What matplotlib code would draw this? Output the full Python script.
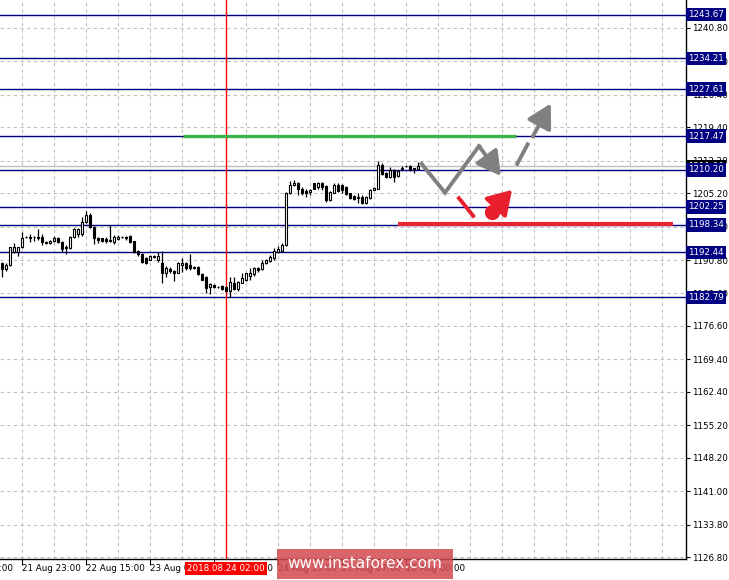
import numpy as np
import matplotlib.pyplot as plt
import matplotlib.patches as mpatches
import matplotlib.transforms as mtransforms

plt.rcParams['font.family'] = ['DejaVu Sans']

# hourly candles, OHLC
opens = [1190.2, 1188.8, 1189.7, 1192.6, 1192.6, 1193.5, 1195.7, 1195.8, 1195.7, 1195.8,
         1195.8, 1194.7, 1194.5, 1194.9, 1195.6, 1194.6, 1193.6, 1193.3, 1195.8, 1196.5,
         1196.5, 1199.0, 1200.5, 1198.0, 1195.5, 1195.5, 1195.4, 1194.9, 1194.7, 1195.3,
         1195.7, 1195.7, 1196.0, 1194.9, 1192.8, 1192.1, 1191.2, 1190.9, 1191.4, 1190.9,
         1190.2, 1187.9, 1188.8, 1188.5, 1188.1, 1189.7, 1190.1, 1189.7, 1189.3, 1189.4,
         1187.8, 1187.2, 1185.0, 1185.4, 1185.0, 1185.2, 1185.0, 1184.2, 1185.8, 1184.5,
         1185.9, 1186.5, 1187.3, 1187.8, 1189.0, 1188.8, 1190.2, 1190.6, 1191.2, 1192.6,
         1192.8, 1194.0, 1205.3, 1206.9, 1207.4, 1206.2, 1205.7, 1205.5, 1207.3, 1206.5,
         1207.4, 1206.7, 1203.7, 1205.3, 1206.9, 1206.9, 1206.6, 1205.2, 1204.6, 1204.1,
         1204.4, 1203.0, 1204.1, 1205.9, 1206.2, 1211.3, 1209.5, 1208.7, 1210.2, 1208.9,
         1210.3, 1211.0, 1211.0, 1210.6, 1210.5]
highs = [1190.4, 1190.1, 1193.6, 1194.4, 1193.6, 1196.9, 1195.9, 1196.5, 1195.9, 1197.5,
         1196.3, 1195.0, 1195.2, 1195.9, 1195.8, 1194.8, 1194.0, 1196.0, 1197.7, 1197.6,
         1200.1, 1201.3, 1200.9, 1198.2, 1195.7, 1195.6, 1195.7, 1198.3, 1196.2, 1196.2,
         1195.9, 1196.0, 1196.2, 1195.0, 1193.0, 1192.3, 1191.5, 1191.9, 1191.8, 1192.6,
         1192.8, 1189.6, 1189.2, 1188.6, 1190.4, 1191.2, 1190.4, 1192.1, 1189.5, 1189.6,
         1188.0, 1187.4, 1185.8, 1185.6, 1185.2, 1185.4, 1185.3, 1187.1, 1187.1, 1186.3,
         1187.9, 1188.1, 1189.0, 1189.2, 1189.2, 1190.9, 1191.1, 1191.9, 1193.3, 1193.8,
         1194.5, 1205.5, 1207.9, 1208.0, 1207.6, 1206.6, 1206.0, 1206.0, 1207.4, 1207.7,
         1207.6, 1206.9, 1205.7, 1207.4, 1207.3, 1207.1, 1206.8, 1205.3, 1204.8, 1205.3,
         1204.8, 1204.5, 1206.2, 1206.6, 1212.2, 1211.6, 1209.7, 1210.8, 1210.4, 1210.2,
         1211.0, 1211.1, 1211.3, 1210.7, 1212.0]
lows = [1187.2, 1188.5, 1189.5, 1192.4, 1191.7, 1193.4, 1195.5, 1194.6, 1194.8, 1195.1,
        1194.0, 1194.3, 1194.3, 1194.6, 1194.4, 1192.6, 1192.2, 1193.1, 1195.6, 1195.8,
        1196.0, 1198.7, 1197.6, 1194.2, 1194.4, 1194.7, 1194.4, 1194.7, 1194.2, 1195.1,
        1195.5, 1195.2, 1194.5, 1192.4, 1191.7, 1190.1, 1189.9, 1190.7, 1191.2, 1190.4,
        1185.9, 1187.2, 1188.1, 1186.3, 1187.9, 1188.3, 1188.7, 1188.7, 1188.8, 1187.6,
        1186.4, 1183.8, 1183.5, 1184.8, 1184.8, 1184.4, 1183.9, 1182.8, 1184.3, 1184.1,
        1185.8, 1186.3, 1186.5, 1187.3, 1188.2, 1188.6, 1190.0, 1190.4, 1190.9, 1192.4,
        1192.6, 1193.8, 1205.1, 1206.7, 1204.8, 1204.8, 1204.4, 1204.8, 1206.0, 1206.0,
        1205.9, 1203.4, 1203.6, 1205.2, 1205.5, 1205.3, 1204.8, 1203.9, 1203.7, 1203.0,
        1202.9, 1202.8, 1204.0, 1205.8, 1206.0, 1209.1, 1208.5, 1208.5, 1207.7, 1208.7,
        1210.0, 1210.9, 1209.9, 1209.6, 1210.3]
closes = [1188.8, 1189.7, 1193.5, 1193.5, 1193.5, 1195.5, 1195.8, 1195.6, 1195.8, 1195.5,
          1194.7, 1194.5, 1194.9, 1195.6, 1194.6, 1193.2, 1193.3, 1195.8, 1197.5, 1197.5,
          1199.0, 1200.5, 1198.0, 1195.5, 1195.1, 1194.9, 1194.9, 1195.1, 1195.7, 1195.7,
          1195.7, 1195.6, 1194.7, 1192.6, 1192.1, 1190.4, 1190.2, 1191.6, 1191.6, 1191.6,
          1187.9, 1189.0, 1188.5, 1187.9, 1190.1, 1190.2, 1189.0, 1189.0, 1189.0, 1187.8,
          1186.6, 1184.7, 1185.6, 1185.0, 1185.0, 1184.6, 1184.2, 1186.1, 1184.5, 1186.1,
          1186.9, 1187.9, 1187.9, 1189.0, 1188.6, 1190.2, 1190.9, 1191.4, 1192.8, 1193.1,
          1194.0, 1205.3, 1207.0, 1207.4, 1206.0, 1205.2, 1205.3, 1205.9, 1206.2, 1207.3,
          1206.5, 1203.7, 1205.5, 1206.9, 1205.7, 1205.9, 1205.0, 1204.1, 1203.9, 1204.3,
          1203.1, 1204.3, 1205.9, 1206.3, 1211.3, 1209.3, 1208.7, 1210.2, 1208.7, 1210.0,
          1210.7, 1211.0, 1210.3, 1210.4, 1211.0]

levels = [1243.67, 1234.21, 1227.61, 1217.47, 1210.20, 1202.25, 1198.34, 1192.44, 1182.79]
bid = 1211.0

yticks = [1240.80, 1233.60, 1226.40, 1219.40, 1212.20, 1205.20, 1198.00, 1190.80, 1183.60,
          1176.60, 1169.40, 1162.40, 1155.20, 1148.20, 1141.00, 1133.80, 1126.80]

time_ticks = [-12, 5, 21, 37, 53, 69, 85, 101]
time_labels = ['21 Aug 07:00', '21 Aug 23:00', '22 Aug 15:00', '23 Aug 07:00',
               '23 Aug 23:00', '24 Aug 15:00', '27 Aug 07:00', '28 Aug 00:00']
marker_bar = 56
marker_label = '2018.08.24 02:00'

# forecast drawings (bar index, price)
green_level = (45.3, 128.5, 1217.6)
red_level = (99.0, 167.7, 1198.5)
gray_path = [(104.9, 1211.5), (110.75, 1205.3), (119.25, 1215.35)]
gray_arrow_end = (124.7, 1208.9)
gray_dash = [(128.8, 1211.5), (131.4, 1215.7)]
gray_arrow2 = [(132.7, 1217.4), (137.2, 1224.5)]
red_dash = [(114.25, 1204.1), (117.8, 1200.3)]
red_dot = (122.4, 1201.2)
red_arrow_end = (127.5, 1205.9)

W, H = 729, 580
fig = plt.figure(figsize=(W / 100, H / 100), dpi=100)
ax = fig.add_axes([0, 21 / H, 686 / W, 559 / H])
ax.set_xlim(-0.5, 171)
ax.set_ylim(1126.4, 1246.8)

grid_kw = dict(color='#c0c0c0', lw=0.8, ls=(0, (3, 3)), zorder=0)
for g in range(5, 171, 8):
    ax.axvline(g, **grid_kw)
for t in yticks:
    ax.axhline(t, **grid_kw)

for lv in levels:
    ax.axhline(lv, color='#000080', lw=1.0, zorder=1)
ax.axhline(bid, color='#c0c0c0', lw=1.0, zorder=1)
ax.axvline(marker_bar, color='red', lw=1.0, zorder=1)

x = np.arange(len(opens))
o = np.array(opens)
c = np.array(closes)
ax.vlines(x, lows, highs, color='black', lw=0.9, zorder=3)
up = c >= o
bottom = np.minimum(o, c)
height = np.maximum(np.abs(c - o), 0.08)
ax.bar(x[up], height[up], 0.7, bottom[up], facecolor='white', edgecolor='black', lw=0.8, zorder=4)
ax.bar(x[~up], height[~up], 0.7, bottom[~up], facecolor='black', edgecolor='black', lw=0.8, zorder=4)

# forecast drawings
ax.plot(green_level[:2], [green_level[2]] * 2, color='#3cb44b', lw=2.4, solid_capstyle='butt', zorder=5)
ax.plot(red_level[:2], [red_level[2]] * 2, color='#e52632', lw=3.0, solid_capstyle='butt', zorder=5)
gx, gy = zip(*gray_path)
ax.plot(gx, gy, color='#808080', lw=2.8, solid_joinstyle='miter', zorder=6)
arrow_kw = dict(arrowstyle='-|>,head_length=0.8,head_width=0.45', color='#808080', lw=2.8,
                mutation_scale=18, shrinkA=0, shrinkB=0)
ax.annotate('', xy=gray_arrow_end, xytext=gray_path[-1], arrowprops=arrow_kw, zorder=6)
dx, dy = zip(*gray_dash)
ax.plot(dx, dy, color='#808080', lw=2.8, zorder=6)
ax.annotate('', xy=gray_arrow2[1], xytext=gray_arrow2[0], arrowprops=arrow_kw, zorder=6)
rx, ry = zip(*red_dash)
ax.plot(rx, ry, color='#e8202e', lw=2.8, zorder=6)
ax.plot(*red_dot, 'o', color='#e8202e', ms=10, zorder=6)
ax.annotate('', xy=red_arrow_end, xytext=red_dot,
            arrowprops=dict(arrowstyle='-|>,head_length=0.8,head_width=0.5', color='#e8202e',
                            lw=2.8, mutation_scale=18, shrinkA=0, shrinkB=0), zorder=6)

# axes look
for s in ['left', 'top']:
    ax.spines[s].set_visible(False)
ax.spines['right'].set_linewidth(1.0)
ax.spines['bottom'].set_linewidth(1.0)
ax.yaxis.tick_right()
ax.set_yticks(yticks)
ax.set_yticklabels(['%.2f' % t for t in yticks])
ax.tick_params(axis='y', length=3, pad=1.5, labelsize=6.3, direction='out')
ax.set_xticks(time_ticks[1:])
ax.set_xticklabels([])
ax.tick_params(axis='x', length=4, direction='out')

xtrans = mtransforms.blended_transform_factory(ax.transData, ax.transAxes)
for t, lab in zip(time_ticks, time_labels):
    ax.text(t, -0.009, lab, transform=xtrans, ha='left', va='top', fontsize=6.3, clip_on=False)

ytrans = mtransforms.blended_transform_factory(ax.transAxes, ax.transData)
# current price label, mostly hidden behind the 1210.20 level box
ax.text(1.003, 1210.9, '%.2f' % bid, transform=ytrans, ha='left', va='center', fontsize=6.3,
        color='white', clip_on=False, zorder=10,
        bbox=dict(boxstyle='square,pad=0.25', fc='black', ec='none'))
for lv in levels:
    ax.text(1.003, lv, '%.2f' % lv, transform=ytrans, ha='left', va='center', fontsize=6.3,
            color='white', clip_on=False, zorder=11,
            bbox=dict(boxstyle='square,pad=0.25', fc='#000080', ec='none'))

ax.text(marker_bar, -0.009, marker_label, transform=xtrans, ha='center', va='top', fontsize=6.3,
        color='white', clip_on=False, zorder=12,
        bbox=dict(boxstyle='square,pad=0.2', fc='#ff0000', ec='none'))

# watermark
fig.patches.append(mpatches.Rectangle((277 / W, 1 / H), 176 / W, 30 / H, transform=fig.transFigure,
                                      fc='#d24a50', alpha=0.85, ec='none', zorder=20))
fig.text(365 / W, 16 / H, 'www.instaforex.com', ha='center', va='center', fontsize=11,
         color='white', zorder=21)

fig.savefig('out.png', dpi=100, facecolor='white')
